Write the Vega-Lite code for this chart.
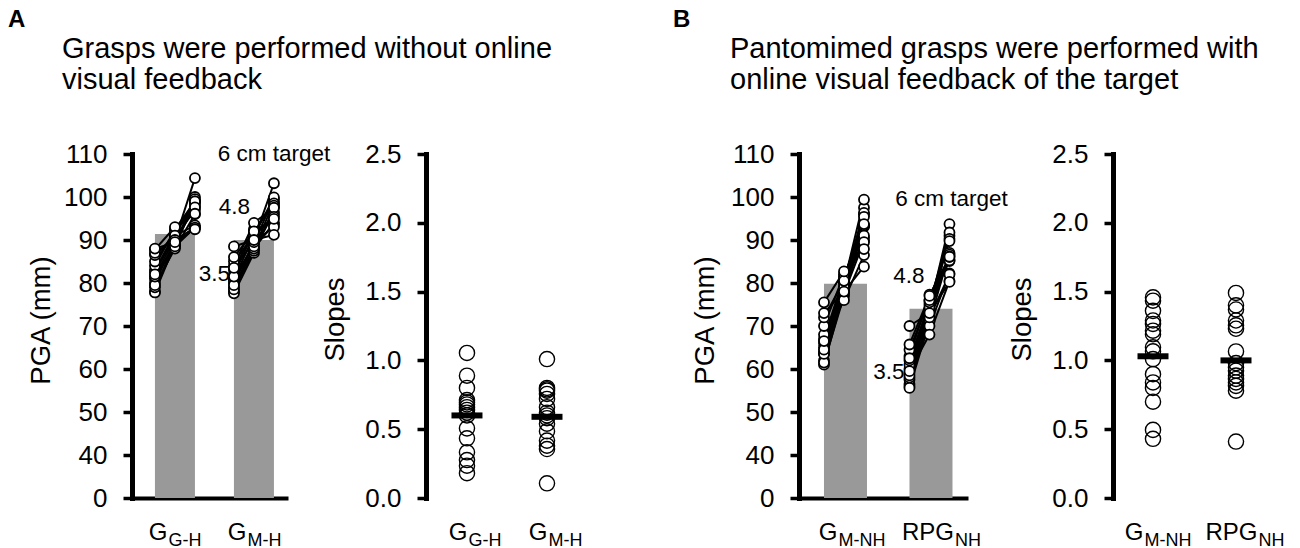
{
"$schema": "https://vega.github.io/schema/vega-lite/v6.json",
"padding": {"left": 8, "top": 8, "right": 5, "bottom": 0},
"config": {
  "font": "Liberation Sans",
  "view": {"stroke": null},
  "axis": {"grid": false, "domainColor": "#000", "domainWidth": 4, "tickColor": "#000", "tickWidth": 3, "tickSize": 9, "labelColor": "#000", "labelFontSize": 26, "labelFont": "Liberation Sans", "titleFont": "Liberation Sans", "titleFontSize": 27.5, "titleFontWeight": "normal", "titleColor": "#000", "labelPadding": 16},
  "axisY": {"domainWidth": 5, "tickWidth": 3.5, "tickSize": 9, "domainCap": "square"},
  "title": {"color": "#000", "font": "Liberation Sans"}
},
"datasets": {
  "bars": [
    {"c": "G|G-H", "v": 91.4}, {"c": "G|M-H", "v": 90.0},
    {"c": "G|M-NH", "v": 79.8}, {"c": "RPG|NH", "v": 74.0}
  ],
  "annot": [
    {"c": "G|M-H", "t": "6", "v": 110, "label": "6 cm target", "k": "title"},
    {"c": "G|M-H", "t": "4.8", "v": 97.7, "label": "4.8", "k": "num"},
    {"c": "G|M-H", "t": "3.5", "v": 82.1, "label": "3.5", "k": "num"},
    {"c": "RPG|NH", "t": "6", "v": 99.5, "label": "6 cm target", "k": "title"},
    {"c": "RPG|NH", "t": "4.8", "v": 81.6, "label": "4.8", "k": "num"},
    {"c": "RPG|NH", "t": "3.5", "v": 59.3, "label": "3.5", "k": "num"}
  ],
  "means": [
    {"c": "G|G-H", "v": 0.60}, {"c": "G|M-H", "v": 0.59},
    {"c": "G|M-NH", "v": 1.03}, {"c": "RPG|NH", "v": 1.00}
  ],
  "slopes": [
    {"c":"G|G-H","v":1.054},{"c":"G|G-H","v":0.889},{"c":"G|G-H","v":0.80},{"c":"G|G-H","v":0.712},{"c":"G|G-H","v":0.695},{"c":"G|G-H","v":0.68},{"c":"G|G-H","v":0.66},{"c":"G|G-H","v":0.64},{"c":"G|G-H","v":0.62},{"c":"G|G-H","v":0.60},{"c":"G|G-H","v":0.506},{"c":"G|G-H","v":0.434},{"c":"G|G-H","v":0.332},{"c":"G|G-H","v":0.276},{"c":"G|G-H","v":0.235},{"c":"G|G-H","v":0.18},
    {"c":"G|M-H","v":1.01},{"c":"G|M-H","v":0.80},{"c":"G|M-H","v":0.79},{"c":"G|M-H","v":0.78},{"c":"G|M-H","v":0.756},{"c":"G|M-H","v":0.72},{"c":"G|M-H","v":0.66},{"c":"G|M-H","v":0.62},{"c":"G|M-H","v":0.60},{"c":"G|M-H","v":0.58},{"c":"G|M-H","v":0.54},{"c":"G|M-H","v":0.485},{"c":"G|M-H","v":0.417},{"c":"G|M-H","v":0.38},{"c":"G|M-H","v":0.356},{"c":"G|M-H","v":0.107},
    {"c":"G|M-NH","v":1.458},{"c":"G|M-NH","v":1.434},{"c":"G|M-NH","v":1.36},{"c":"G|M-NH","v":1.29},{"c":"G|M-NH","v":1.265},{"c":"G|M-NH","v":1.216},{"c":"G|M-NH","v":1.19},{"c":"G|M-NH","v":1.095},{"c":"G|M-NH","v":1.066},{"c":"G|M-NH","v":1.01},{"c":"G|M-NH","v":0.90},{"c":"G|M-NH","v":0.84},{"c":"G|M-NH","v":0.80},{"c":"G|M-NH","v":0.70},{"c":"G|M-NH","v":0.495},{"c":"G|M-NH","v":0.43},
    {"c":"RPG|NH","v":1.49},{"c":"RPG|NH","v":1.40},{"c":"RPG|NH","v":1.37},{"c":"RPG|NH","v":1.29},{"c":"RPG|NH","v":1.255},{"c":"RPG|NH","v":1.23},{"c":"RPG|NH","v":1.065},{"c":"RPG|NH","v":0.98},{"c":"RPG|NH","v":0.95},{"c":"RPG|NH","v":0.925},{"c":"RPG|NH","v":0.89},{"c":"RPG|NH","v":0.865},{"c":"RPG|NH","v":0.84},{"c":"RPG|NH","v":0.815},{"c":"RPG|NH","v":0.78},{"c":"RPG|NH","v":0.41}
  ],
  "pga": [
    {"c":"G|G-H","s":1,"t":"3.5","v":78},{"c":"G|G-H","s":1,"t":"4.8","v":90},{"c":"G|G-H","s":1,"t":"6","v":104.4},
    {"c":"G|G-H","s":2,"t":"3.5","v":77.8},{"c":"G|G-H","s":2,"t":"4.8","v":89},{"c":"G|G-H","s":2,"t":"6","v":100},
    {"c":"G|G-H","s":3,"t":"3.5","v":79},{"c":"G|G-H","s":3,"t":"4.8","v":88.5},{"c":"G|G-H","s":3,"t":"6","v":99},
    {"c":"G|G-H","s":4,"t":"3.5","v":80},{"c":"G|G-H","s":4,"t":"4.8","v":90},{"c":"G|G-H","s":4,"t":"6","v":97.8},
    {"c":"G|G-H","s":5,"t":"3.5","v":81},{"c":"G|G-H","s":5,"t":"4.8","v":89},{"c":"G|G-H","s":5,"t":"6","v":98.4},
    {"c":"G|G-H","s":6,"t":"3.5","v":82.5},{"c":"G|G-H","s":6,"t":"4.8","v":91},{"c":"G|G-H","s":6,"t":"6","v":99.5},
    {"c":"G|G-H","s":7,"t":"3.5","v":79.5},{"c":"G|G-H","s":7,"t":"4.8","v":88},{"c":"G|G-H","s":7,"t":"6","v":96},
    {"c":"G|G-H","s":8,"t":"3.5","v":83},{"c":"G|G-H","s":8,"t":"4.8","v":91.5},{"c":"G|G-H","s":8,"t":"6","v":99},
    {"c":"G|G-H","s":9,"t":"3.5","v":81.5},{"c":"G|G-H","s":9,"t":"4.8","v":90.5},{"c":"G|G-H","s":9,"t":"6","v":97},
    {"c":"G|G-H","s":10,"t":"3.5","v":84},{"c":"G|G-H","s":10,"t":"4.8","v":92.5},{"c":"G|G-H","s":10,"t":"6","v":99},
    {"c":"G|G-H","s":11,"t":"3.5","v":85},{"c":"G|G-H","s":11,"t":"4.8","v":92},{"c":"G|G-H","s":11,"t":"6","v":97.6},
    {"c":"G|G-H","s":12,"t":"3.5","v":82},{"c":"G|G-H","s":12,"t":"4.8","v":88.5},{"c":"G|G-H","s":12,"t":"6","v":92.9},
    {"c":"G|G-H","s":13,"t":"3.5","v":87.8},{"c":"G|G-H","s":13,"t":"4.8","v":93},{"c":"G|G-H","s":13,"t":"6","v":96.1},
    {"c":"G|G-H","s":14,"t":"3.5","v":86.5},{"c":"G|G-H","s":14,"t":"4.8","v":91},{"c":"G|G-H","s":14,"t":"6","v":93.4},
    {"c":"G|G-H","s":15,"t":"3.5","v":87},{"c":"G|G-H","s":15,"t":"4.8","v":90},{"c":"G|G-H","s":15,"t":"6","v":92.9},
    {"c":"G|G-H","s":16,"t":"3.5","v":88},{"c":"G|G-H","s":16,"t":"4.8","v":89.5},{"c":"G|G-H","s":16,"t":"6","v":92.5},
    {"c":"G|M-H","s":1,"t":"3.5","v":78},{"c":"G|M-H","s":1,"t":"4.8","v":90},{"c":"G|M-H","s":1,"t":"6","v":103.2},
    {"c":"G|M-H","s":2,"t":"3.5","v":77.6},{"c":"G|M-H","s":2,"t":"4.8","v":87},{"c":"G|M-H","s":2,"t":"6","v":97.6},
    {"c":"G|M-H","s":3,"t":"3.5","v":79},{"c":"G|M-H","s":3,"t":"4.8","v":88},{"c":"G|M-H","s":3,"t":"6","v":98.8},
    {"c":"G|M-H","s":4,"t":"3.5","v":80},{"c":"G|M-H","s":4,"t":"4.8","v":89.5},{"c":"G|M-H","s":4,"t":"6","v":99.5},
    {"c":"G|M-H","s":5,"t":"3.5","v":81},{"c":"G|M-H","s":5,"t":"4.8","v":91},{"c":"G|M-H","s":5,"t":"6","v":99.9},
    {"c":"G|M-H","s":6,"t":"3.5","v":78.5},{"c":"G|M-H","s":6,"t":"4.8","v":87.5},{"c":"G|M-H","s":6,"t":"6","v":96.5},
    {"c":"G|M-H","s":7,"t":"3.5","v":82},{"c":"G|M-H","s":7,"t":"4.8","v":92},{"c":"G|M-H","s":7,"t":"6","v":98.5},
    {"c":"G|M-H","s":8,"t":"3.5","v":80.5},{"c":"G|M-H","s":8,"t":"4.8","v":89},{"c":"G|M-H","s":8,"t":"6","v":96},
    {"c":"G|M-H","s":9,"t":"3.5","v":83},{"c":"G|M-H","s":9,"t":"4.8","v":92.5},{"c":"G|M-H","s":9,"t":"6","v":98},
    {"c":"G|M-H","s":10,"t":"3.5","v":79.5},{"c":"G|M-H","s":10,"t":"4.8","v":88},{"c":"G|M-H","s":10,"t":"6","v":94},
    {"c":"G|M-H","s":11,"t":"3.5","v":84},{"c":"G|M-H","s":11,"t":"4.8","v":94},{"c":"G|M-H","s":11,"t":"6","v":97.5},
    {"c":"G|M-H","s":12,"t":"3.5","v":81.5},{"c":"G|M-H","s":12,"t":"4.8","v":88.5},{"c":"G|M-H","s":12,"t":"6","v":93.6},
    {"c":"G|M-H","s":13,"t":"3.5","v":85},{"c":"G|M-H","s":13,"t":"4.8","v":91},{"c":"G|M-H","s":13,"t":"6","v":95.4},
    {"c":"G|M-H","s":14,"t":"3.5","v":83.5},{"c":"G|M-H","s":14,"t":"4.8","v":89.5},{"c":"G|M-H","s":14,"t":"6","v":93},
    {"c":"G|M-H","s":15,"t":"3.5","v":86},{"c":"G|M-H","s":15,"t":"4.8","v":92},{"c":"G|M-H","s":15,"t":"6","v":94.9},
    {"c":"G|M-H","s":16,"t":"3.5","v":88.5},{"c":"G|M-H","s":16,"t":"4.8","v":90},{"c":"G|M-H","s":16,"t":"6","v":91.2},
    {"c":"G|M-NH","s":1,"t":"3.5","v":61},{"c":"G|M-NH","s":1,"t":"4.8","v":78},{"c":"G|M-NH","s":1,"t":"6","v":97.5},
    {"c":"G|M-NH","s":2,"t":"3.5","v":63.5},{"c":"G|M-NH","s":2,"t":"4.8","v":80},{"c":"G|M-NH","s":2,"t":"6","v":99.4},
    {"c":"G|M-NH","s":3,"t":"3.5","v":62},{"c":"G|M-NH","s":3,"t":"4.8","v":79},{"c":"G|M-NH","s":3,"t":"6","v":96},
    {"c":"G|M-NH","s":4,"t":"3.5","v":64},{"c":"G|M-NH","s":4,"t":"4.8","v":80.5},{"c":"G|M-NH","s":4,"t":"6","v":96.3},
    {"c":"G|M-NH","s":5,"t":"3.5","v":61.5},{"c":"G|M-NH","s":5,"t":"4.8","v":77},{"c":"G|M-NH","s":5,"t":"6","v":93.1},
    {"c":"G|M-NH","s":6,"t":"3.5","v":65},{"c":"G|M-NH","s":6,"t":"4.8","v":81},{"c":"G|M-NH","s":6,"t":"6","v":95.4},
    {"c":"G|M-NH","s":7,"t":"3.5","v":63.5},{"c":"G|M-NH","s":7,"t":"4.8","v":78.5},{"c":"G|M-NH","s":7,"t":"6","v":93.3},
    {"c":"G|M-NH","s":8,"t":"3.5","v":66},{"c":"G|M-NH","s":8,"t":"4.8","v":80},{"c":"G|M-NH","s":8,"t":"6","v":93.4},
    {"c":"G|M-NH","s":9,"t":"3.5","v":67},{"c":"G|M-NH","s":9,"t":"4.8","v":81.5},{"c":"G|M-NH","s":9,"t":"6","v":93.7},
    {"c":"G|M-NH","s":10,"t":"3.5","v":64.5},{"c":"G|M-NH","s":10,"t":"4.8","v":77.5},{"c":"G|M-NH","s":10,"t":"6","v":89.8},
    {"c":"G|M-NH","s":11,"t":"3.5","v":68},{"c":"G|M-NH","s":11,"t":"4.8","v":79},{"c":"G|M-NH","s":11,"t":"6","v":90.5},
    {"c":"G|M-NH","s":12,"t":"3.5","v":70},{"c":"G|M-NH","s":12,"t":"4.8","v":82},{"c":"G|M-NH","s":12,"t":"6","v":91},
    {"c":"G|M-NH","s":13,"t":"3.5","v":66.5},{"c":"G|M-NH","s":13,"t":"4.8","v":76},{"c":"G|M-NH","s":13,"t":"6","v":86.5},
    {"c":"G|M-NH","s":14,"t":"3.5","v":72},{"c":"G|M-NH","s":14,"t":"4.8","v":80.5},{"c":"G|M-NH","s":14,"t":"6","v":89.5},
    {"c":"G|M-NH","s":15,"t":"3.5","v":75.5},{"c":"G|M-NH","s":15,"t":"4.8","v":82.7},{"c":"G|M-NH","s":15,"t":"6","v":87.9},
    {"c":"G|M-NH","s":16,"t":"3.5","v":73},{"c":"G|M-NH","s":16,"t":"4.8","v":78},{"c":"G|M-NH","s":16,"t":"6","v":83.8},
    {"c":"RPG|NH","s":1,"t":"3.5","v":56.5},{"c":"RPG|NH","s":1,"t":"4.8","v":74},{"c":"RPG|NH","s":1,"t":"6","v":93.7},
    {"c":"RPG|NH","s":2,"t":"3.5","v":56},{"c":"RPG|NH","s":2,"t":"4.8","v":72.5},{"c":"RPG|NH","s":2,"t":"6","v":91},
    {"c":"RPG|NH","s":3,"t":"3.5","v":57.5},{"c":"RPG|NH","s":3,"t":"4.8","v":75},{"c":"RPG|NH","s":3,"t":"6","v":91.75},
    {"c":"RPG|NH","s":4,"t":"3.5","v":58},{"c":"RPG|NH","s":4,"t":"4.8","v":74},{"c":"RPG|NH","s":4,"t":"6","v":90.25},
    {"c":"RPG|NH","s":5,"t":"3.5","v":55.6},{"c":"RPG|NH","s":5,"t":"4.8","v":71},{"c":"RPG|NH","s":5,"t":"6","v":87},
    {"c":"RPG|NH","s":6,"t":"3.5","v":59},{"c":"RPG|NH","s":6,"t":"4.8","v":76},{"c":"RPG|NH","s":6,"t":"6","v":89.75},
    {"c":"RPG|NH","s":7,"t":"3.5","v":60},{"c":"RPG|NH","s":7,"t":"4.8","v":73},{"c":"RPG|NH","s":7,"t":"6","v":86.6},
    {"c":"RPG|NH","s":8,"t":"3.5","v":61},{"c":"RPG|NH","s":8,"t":"4.8","v":74.5},{"c":"RPG|NH","s":8,"t":"6","v":85.5},
    {"c":"RPG|NH","s":9,"t":"3.5","v":58.5},{"c":"RPG|NH","s":9,"t":"4.8","v":70},{"c":"RPG|NH","s":9,"t":"6","v":82.25},
    {"c":"RPG|NH","s":10,"t":"3.5","v":62},{"c":"RPG|NH","s":10,"t":"4.8","v":75.5},{"c":"RPG|NH","s":10,"t":"6","v":85.1},
    {"c":"RPG|NH","s":11,"t":"3.5","v":63},{"c":"RPG|NH","s":11,"t":"4.8","v":77.3},{"c":"RPG|NH","s":11,"t":"6","v":85.25},
    {"c":"RPG|NH","s":12,"t":"3.5","v":64.5},{"c":"RPG|NH","s":12,"t":"4.8","v":76},{"c":"RPG|NH","s":12,"t":"6","v":86.1},
    {"c":"RPG|NH","s":13,"t":"3.5","v":59.5},{"c":"RPG|NH","s":13,"t":"4.8","v":68},{"c":"RPG|NH","s":13,"t":"6","v":80.5},
    {"c":"RPG|NH","s":14,"t":"3.5","v":65.7},{"c":"RPG|NH","s":14,"t":"4.8","v":77},{"c":"RPG|NH","s":14,"t":"6","v":86.1},
    {"c":"RPG|NH","s":15,"t":"3.5","v":62.5},{"c":"RPG|NH","s":15,"t":"4.8","v":72},{"c":"RPG|NH","s":15,"t":"6","v":82},
    {"c":"RPG|NH","s":16,"t":"3.5","v":70},{"c":"RPG|NH","s":16,"t":"4.8","v":73},{"c":"RPG|NH","s":16,"t":"6","v":80.25}
  ]
},
"spacing": 145,
"bounds": "flush",
"hconcat": [
  {
    "width": 156, "height": 344,
    "title": {"text": "A", "anchor": "start", "frame": "group", "dx": -124, "fontSize": 24, "fontWeight": "bold", "offset": 109},
    "resolve": {"axis": {"x": "independent"}},
    "layer": [
      {"data": {"name": "bars"},
       "transform": [{"filter": {"field": "c", "oneOf": ["G|G-H", "G|M-H"]}}],
       "mark": {"type": "bar", "color": "#999999", "width": 40},
       "encoding": {
         "x": {"field": "c", "type": "nominal", "scale": {"type": "band", "domain": ["G|G-H", "G|M-H"], "paddingInner": 0.4937, "paddingOuter": 0.2342, "align": 0.62},
               "axis": {"orient": "bottom", "title": null, "domain": true, "ticks": false, "tickSize": 0, "labelExpr": "split(datum.value,'|')[0]", "labelAlign": "right", "labelBaseline": "alphabetic", "labelFontSize": 24, "labelPadding": 41, "labelOffset": -7.5, "labelAngle": 0, "labelOverlap": false}},
         "y": {"field": "v", "type": "quantitative", "title": "PGA (mm)", "scale": {"domain": [30, 110], "nice": false, "zero": false},
               "axis": {"title": "PGA (mm)", "values": [30, 40, 50, 60, 70, 80, 90, 100, 110], "labelExpr": "datum.value == 30 ? '0' : datum.label", "domainWidth": 5, "tickWidth": 3.5, "titleX": -77, "titleY": 166, "titleBaseline": "bottom"}},
         "y2": {"datum": 30}
       }},
      {"data": {"name": "pga"},
       "transform": [{"filter": {"field": "c", "oneOf": ["G|G-H", "G|M-H"]}}],
       "mark": {"type": "line", "color": "#000", "strokeWidth": 2},
       "encoding": {
         "x": {"field": "c", "type": "nominal", "axis": {"orient": "bottom", "title": null, "domain": false, "ticks": false, "tickSize": 0, "labelExpr": "split(datum.value,'|')[1]", "labelAlign": "left", "labelBaseline": "alphabetic", "labelFontSize": 18, "labelPadding": 47, "labelOffset": -6.5, "labelAngle": 0, "labelOverlap": false}},
         "xOffset": {"field": "t", "type": "nominal", "scale": {"type": "point", "padding": 0, "domain": ["3.5", "4.8", "6"]}},
         "y": {"field": "v", "type": "quantitative", "title": "PGA (mm)"},
         "detail": [{"field": "c", "type": "nominal"}, {"field": "s", "type": "nominal"}],
         "order": {"field": "t", "type": "ordinal"}
       }},
      {"data": {"name": "pga"},
       "transform": [{"filter": {"field": "c", "oneOf": ["G|G-H", "G|M-H"]}}],
       "mark": {"type": "point", "shape": "circle", "filled": true, "color": "#fff", "stroke": "#000", "strokeWidth": 1.8, "size": 100, "opacity": 1},
       "encoding": {
         "x": {"field": "c", "type": "nominal", "axis": null},
         "xOffset": {"field": "t", "type": "nominal"},
         "y": {"field": "v", "type": "quantitative", "title": "PGA (mm)"}
       }},
      {"data": {"name": "annot"},
       "transform": [{"filter": {"field": "c", "oneOf": ["G|G-H", "G|M-H"]}}, {"filter": "datum.k == 'title'"}],
       "mark": {"type": "text", "fontSize": 22.5, "color": "#000", "align": "center", "baseline": "middle", "dx": 0},
       "encoding": {
         "x": {"field": "c", "type": "nominal", "axis": null},
         "xOffset": {"field": "t", "type": "nominal"},
         "y": {"field": "v", "type": "quantitative", "title": "PGA (mm)"},
         "text": {"field": "label"}
       }},
      {"data": {"name": "annot"},
       "transform": [{"filter": {"field": "c", "oneOf": ["G|G-H", "G|M-H"]}}, {"filter": "datum.k == 'num'"}],
       "mark": {"type": "text", "fontSize": 22.5, "color": "#000", "align": "right", "baseline": "middle", "dx": -4},
       "encoding": {
         "x": {"field": "c", "type": "nominal", "axis": null},
         "xOffset": {"field": "t", "type": "nominal"},
         "y": {"field": "v", "type": "quantitative", "title": "PGA (mm)"},
         "text": {"field": "label"}
       }}
    ]
  },
  {
    "width": 221, "height": 344,
    "title": {"text": ["Grasps were performed without online", "visual feedback"], "anchor": "start", "frame": "group", "dx": -371, "fontSize": 29, "fontWeight": "normal", "lineHeight": 31, "offset": 46},
    "resolve": {"axis": {"x": "independent"}},
    "layer": [
      {"data": {"name": "slopes"},
       "transform": [{"filter": {"field": "c", "oneOf": ["G|G-H", "G|M-H"]}}],
       "mark": {"type": "point", "shape": "circle", "filled": false, "color": "#000", "strokeWidth": 1.4, "size": 230, "opacity": 1},
       "encoding": {
         "x": {"field": "c", "type": "nominal", "scale": {"type": "point", "domain": ["G|G-H", "G|M-H"], "padding": 0.881, "align": 0.241},
               "axis": {"orient": "bottom", "title": null, "domain": false, "ticks": false, "tickSize": 0, "labelExpr": "split(datum.value,'|')[0]", "labelAlign": "right", "labelBaseline": "alphabetic", "labelFontSize": 24, "labelPadding": 41, "labelOffset": 0, "labelAngle": 0, "labelOverlap": false}},
         "y": {"field": "v", "type": "quantitative", "title": "Slopes", "scale": {"domain": [0, 2.5], "nice": false},
               "axis": {"title": "Slopes", "values": [0, 0.5, 1, 1.5, 2, 2.5], "format": ".1f", "offset": 7, "domainWidth": 5, "tickWidth": 3.5, "titleX": -77, "titleY": 165, "titleBaseline": "bottom"}}
       }},
      {"data": {"name": "means"},
       "transform": [{"filter": {"field": "c", "oneOf": ["G|G-H", "G|M-H"]}}],
       "mark": {"type": "tick", "color": "#000", "size": 31, "thickness": 6, "opacity": 1},
       "encoding": {
         "x": {"field": "c", "type": "nominal", "axis": {"orient": "bottom", "title": null, "domain": false, "ticks": false, "tickSize": 0, "labelExpr": "split(datum.value,'|')[1]", "labelAlign": "left", "labelBaseline": "alphabetic", "labelFontSize": 18, "labelPadding": 47, "labelOffset": 1, "labelAngle": 0, "labelOverlap": false}},
         "y": {"field": "v", "type": "quantitative", "title": "Slopes"}
       }}
    ]
  },
  {
    "width": 169, "height": 344,
    "title": {"text": "B", "anchor": "start", "frame": "group", "dx": -126, "fontSize": 24, "fontWeight": "bold", "offset": 109},
    "resolve": {"axis": {"x": "independent"}},
    "layer": [
      {"data": {"name": "bars"},
       "transform": [{"filter": {"field": "c", "oneOf": ["G|M-NH", "RPG|NH"]}}],
       "mark": {"type": "bar", "color": "#999999", "width": 43},
       "encoding": {
         "x": {"field": "c", "type": "nominal", "scale": {"type": "band", "domain": ["G|M-NH", "RPG|NH"], "paddingInner": 0.497, "paddingOuter": 0.2368, "align": 0.617},
               "axis": {"orient": "bottom", "title": null, "domain": true, "ticks": false, "tickSize": 0, "labelExpr": "split(datum.value,'|')[0]", "labelAlign": "right", "labelBaseline": "alphabetic", "labelFontSize": 24, "labelPadding": 41, "labelOffset": {"condition": {"test": "indexof(datum.value,'RPG') == 0", "value": 23}, "value": -8}, "labelAngle": 0, "labelOverlap": false}},
         "y": {"field": "v", "type": "quantitative", "title": "PGA (mm)", "scale": {"domain": [30, 110], "nice": false, "zero": false},
               "axis": {"title": "PGA (mm)", "values": [30, 40, 50, 60, 70, 80, 90, 100, 110], "labelExpr": "datum.value == 30 ? '0' : datum.label", "domainWidth": 5, "tickWidth": 3.5, "titleX": -80, "titleY": 166, "titleBaseline": "bottom"}},
         "y2": {"datum": 30}
       }},
      {"data": {"name": "pga"},
       "transform": [{"filter": {"field": "c", "oneOf": ["G|M-NH", "RPG|NH"]}}],
       "mark": {"type": "line", "color": "#000", "strokeWidth": 2},
       "encoding": {
         "x": {"field": "c", "type": "nominal", "axis": {"orient": "bottom", "title": null, "domain": false, "ticks": false, "tickSize": 0, "labelExpr": "split(datum.value,'|')[1]", "labelAlign": "left", "labelBaseline": "alphabetic", "labelFontSize": 18, "labelPadding": 47, "labelOffset": {"condition": {"test": "indexof(datum.value,'RPG') == 0", "value": 24}, "value": -7}, "labelAngle": 0, "labelOverlap": false}},
         "xOffset": {"field": "t", "type": "nominal", "scale": {"type": "point", "padding": 0, "domain": ["3.5", "4.8", "6"]}},
         "y": {"field": "v", "type": "quantitative", "title": "PGA (mm)"},
         "detail": [{"field": "c", "type": "nominal"}, {"field": "s", "type": "nominal"}],
         "order": {"field": "t", "type": "ordinal"}
       }},
      {"data": {"name": "pga"},
       "transform": [{"filter": {"field": "c", "oneOf": ["G|M-NH", "RPG|NH"]}}],
       "mark": {"type": "point", "shape": "circle", "filled": true, "color": "#fff", "stroke": "#000", "strokeWidth": 1.8, "size": 100, "opacity": 1},
       "encoding": {
         "x": {"field": "c", "type": "nominal", "axis": null},
         "xOffset": {"field": "t", "type": "nominal"},
         "y": {"field": "v", "type": "quantitative", "title": "PGA (mm)"}
       }},
      {"data": {"name": "annot"},
       "transform": [{"filter": {"field": "c", "oneOf": ["G|M-NH", "RPG|NH"]}}, {"filter": "datum.k == 'title'"}],
       "mark": {"type": "text", "fontSize": 22.5, "color": "#000", "align": "center", "baseline": "middle", "dx": 2},
       "encoding": {
         "x": {"field": "c", "type": "nominal", "axis": null},
         "xOffset": {"field": "t", "type": "nominal"},
         "y": {"field": "v", "type": "quantitative", "title": "PGA (mm)"},
         "text": {"field": "label"}
       }},
      {"data": {"name": "annot"},
       "transform": [{"filter": {"field": "c", "oneOf": ["G|M-NH", "RPG|NH"]}}, {"filter": "datum.k == 'num'"}],
       "mark": {"type": "text", "fontSize": 22.5, "color": "#000", "align": "right", "baseline": "middle", "dx": -5},
       "encoding": {
         "x": {"field": "c", "type": "nominal", "axis": null},
         "xOffset": {"field": "t", "type": "nominal"},
         "y": {"field": "v", "type": "quantitative", "title": "PGA (mm)"},
         "text": {"field": "label"}
       }}
    ]
  },
  {
    "width": 163, "height": 344,
    "title": {"text": ["Pantomimed grasps were performed with", "online visual feedback of the target"], "anchor": "start", "frame": "group", "dx": -383, "fontSize": 29, "fontWeight": "normal", "lineHeight": 31, "offset": 46},
    "resolve": {"axis": {"x": "independent"}},
    "layer": [
      {"data": {"name": "slopes"},
       "transform": [{"filter": {"field": "c", "oneOf": ["G|M-NH", "RPG|NH"]}}],
       "mark": {"type": "point", "shape": "circle", "filled": false, "color": "#000", "strokeWidth": 1.4, "size": 230, "opacity": 1},
       "encoding": {
         "x": {"field": "c", "type": "nominal", "scale": {"type": "point", "domain": ["G|M-NH", "RPG|NH"], "padding": 0.482, "align": 0.5},
               "axis": {"orient": "bottom", "title": null, "domain": false, "ticks": false, "tickSize": 0, "labelExpr": "split(datum.value,'|')[0]", "labelAlign": "right", "labelBaseline": "alphabetic", "labelFontSize": 24, "labelPadding": 41, "labelOffset": {"condition": {"test": "indexof(datum.value,'RPG') == 0", "value": 21}, "value": -10}, "labelAngle": 0, "labelOverlap": false}},
         "y": {"field": "v", "type": "quantitative", "title": "Slopes", "scale": {"domain": [0, 2.5], "nice": false},
               "axis": {"title": "Slopes", "values": [0, 0.5, 1, 1.5, 2, 2.5], "format": ".1f", "domainWidth": 5, "tickWidth": 3.5, "titleX": -77, "titleY": 165, "titleBaseline": "bottom"}}
       }},
      {"data": {"name": "means"},
       "transform": [{"filter": {"field": "c", "oneOf": ["G|M-NH", "RPG|NH"]}}],
       "mark": {"type": "tick", "color": "#000", "size": 31, "thickness": 6, "opacity": 1},
       "encoding": {
         "x": {"field": "c", "type": "nominal", "axis": {"orient": "bottom", "title": null, "domain": false, "ticks": false, "tickSize": 0, "labelExpr": "split(datum.value,'|')[1]", "labelAlign": "left", "labelBaseline": "alphabetic", "labelFontSize": 18, "labelPadding": 47, "labelOffset": {"condition": {"test": "indexof(datum.value,'RPG') == 0", "value": 22}, "value": -9}, "labelAngle": 0, "labelOverlap": false}},
         "y": {"field": "v", "type": "quantitative", "title": "Slopes"}
       }}
    ]
  }
]
}
